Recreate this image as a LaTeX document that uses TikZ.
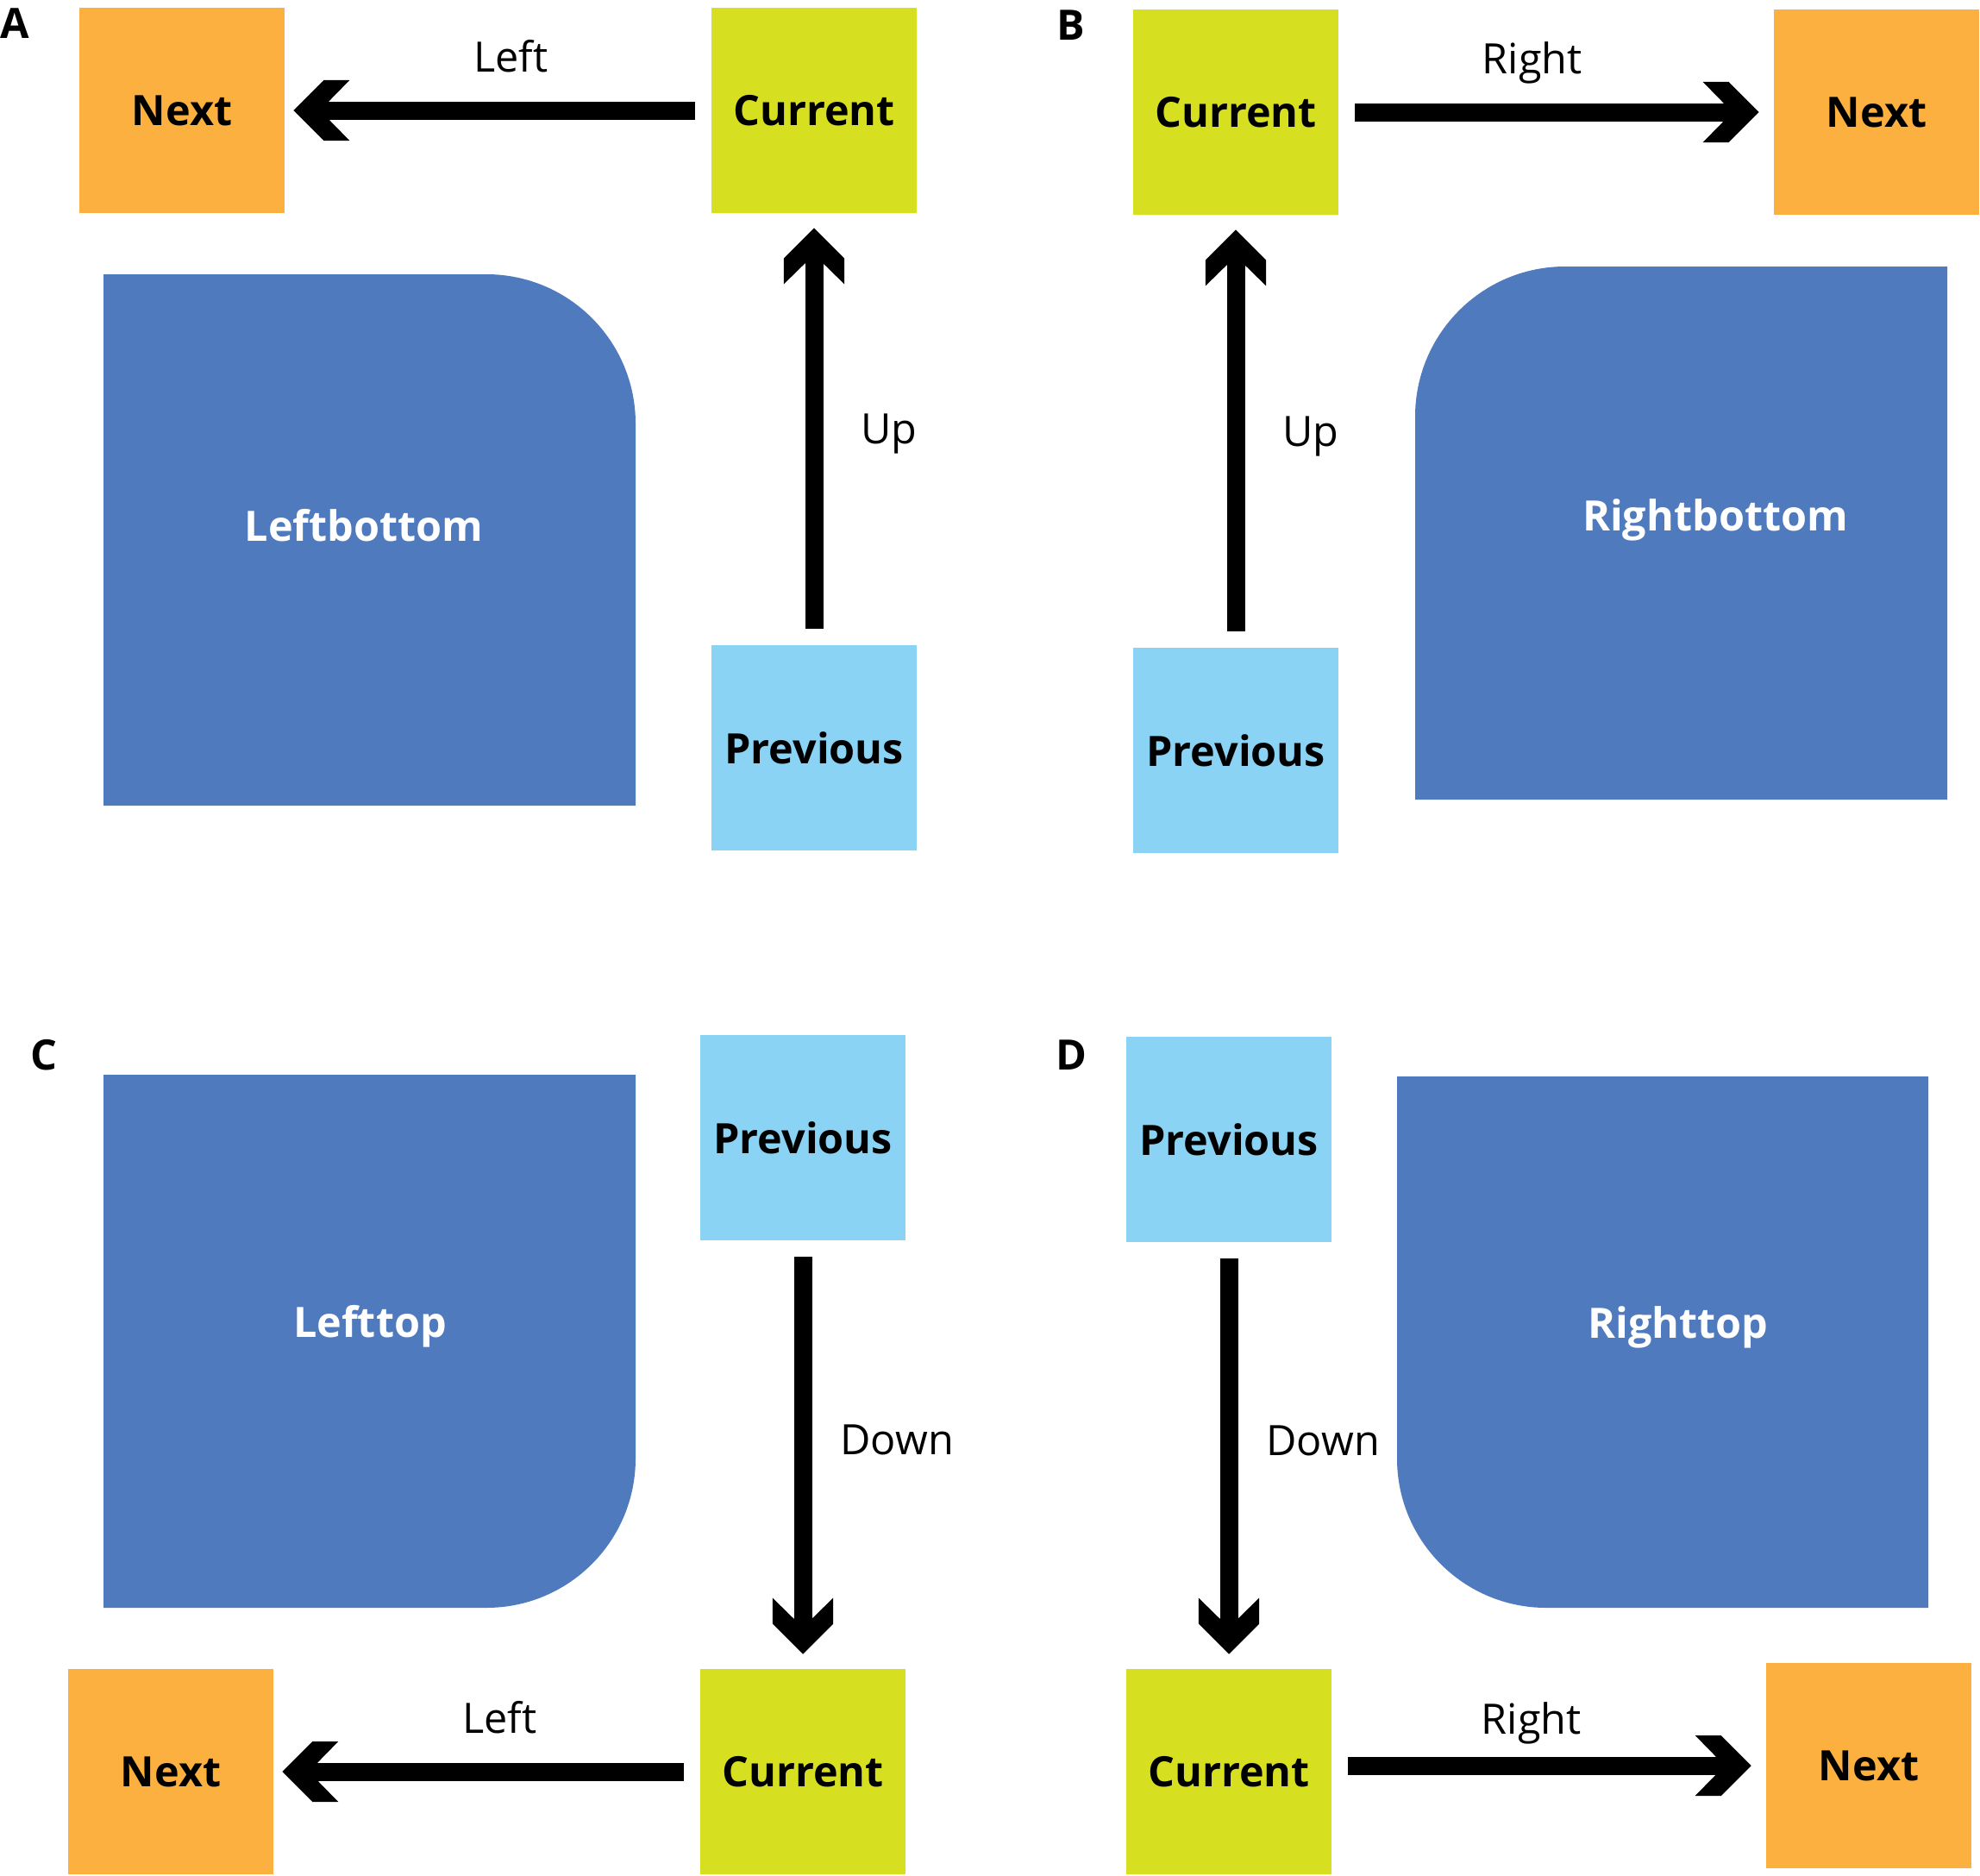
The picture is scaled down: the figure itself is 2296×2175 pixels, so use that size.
\documentclass[tikz,border=0pt]{standalone}
\usepackage{fontspec}
\setmainfont{Open Sans}
\usetikzlibrary{arrows.meta, positioning, calc}

% thick chevron tip
\pgfdeclarearrow{
  name = Chevron,
  setup code = {
    \pgfarrowssettipend{0pt}
    \pgfarrowssetbackend{-18.5pt}
    \pgfarrowssetlineend{-8pt}
    \pgfarrowshullpoint{0pt}{0pt}
    \pgfarrowshullpoint{-18.5pt}{9.96pt}
    \pgfarrowshullpoint{-18.5pt}{-9.96pt}
  },
  drawing code = {
    \pgfpathmoveto{\pgfpointorigin}
    \pgfpathlineto{\pgfpoint{-9.96pt}{9.96pt}}
    \pgfpathlineto{\pgfpoint{-18.5pt}{9.96pt}}
    \pgfpathlineto{\pgfpoint{-11.67pt}{2.99pt}}
    \pgfpathlineto{\pgfpoint{-11.67pt}{-2.99pt}}
    \pgfpathlineto{\pgfpoint{-18.5pt}{-9.96pt}}
    \pgfpathlineto{\pgfpoint{-9.96pt}{-9.96pt}}
    \pgfpathclose
    \pgfusepathqfill
  }
}

\definecolor{nextorange}{HTML}{FBB040}
\definecolor{currgreen}{HTML}{D7DF21}
\definecolor{prevblue}{HTML}{8AD3F4}
\definecolor{blockblue}{HTML}{4F7ABE}

\begin{document}
\begin{tikzpicture}[
  x=0.01cm, y=-0.01cm,
  font=\fontsize{13.8}{16.5}\selectfont,
  % cell styles
  cell/.style={
    rectangle, minimum size=2.37cm, inner sep=0pt,
    font=\fontsize{13.8}{16.5}\selectfont\bfseries
  },
  nextbox/.style={cell, fill=nextorange},
  currentbox/.style={cell, fill=currgreen},
  previousbox/.style={cell, fill=prevblue},
  blocklbl/.style={inner sep=0pt, text=white, font=\fontsize{13.8}{16.5}\selectfont\bfseries},
  panel/.style={inner sep=0pt, font=\fontsize{13.8}{16.5}\selectfont\bfseries},
  % moves
  move/.style={line width=0.21cm, -Chevron, shorten <=0.19cm, shorten >=0.17cm},
  movelbl/.style={inner sep=0pt, text depth=0pt}
]
\useasboundingbox (0,0) rectangle (2296,2175);

% Blocks
\fill[blockblue] (120,934) -- (737,934) -- (737,491)
  arc[start angle=0, end angle=-90, radius=173] -- (120,318) -- cycle;
\fill[blockblue] (2258,927) -- (1641,927) -- (1641,483)
  arc[start angle=180, end angle=270, radius=174] -- (2258,309) -- cycle;
\fill[blockblue] (120,1246) -- (737,1246) -- (737,1691)
  arc[start angle=0, end angle=90, radius=173] -- (120,1864) -- cycle;
\fill[blockblue] (2236,1248) -- (1620,1248) -- (1620,1691)
  arc[start angle=180, end angle=90, radius=173] -- (2236,1864) -- cycle;

\node[blocklbl] (lbot) at (422,609) {Leftbottom};
\node[blocklbl] (rbot) at (1989,603) {Rightbottom};
\node[blocklbl] (ltop) at (429,1538) {Lefttop};
\node[blocklbl] (rtop) at (1946,1539) {Righttop};

% Panel letters
\node[panel] (pA) at (17,27) {A};
\node[panel] (pB) at (1242,29) {B};
\node[panel] (pC) at (51,1223) {C};
\node[panel] (pD) at (1242,1223) {D};

% A: up then left
\node[nextbox] (nxtA) at (211,128) {Next};
\node[currentbox] (curA) at (944,128) {Current};
\node[previousbox] (prvA) at (944,867) {Previous};
\draw[move] (prvA) -- (curA) node[movelbl, midway, right=0.44cm] {Up};
\draw[move, shorten >=0.1cm] (curA) -- (nxtA) node[movelbl, pos=.47, above=0.34cm] {Left};

% B: up then right
\node[currentbox] (curB) at (1433,130) {Current};
\node[nextbox] (nxtB) at (2176,130) {Next};
\node[previousbox] (prvB) at (1433,870) {Previous};
\draw[move] (prvB) -- (curB) node[movelbl, midway, right=0.44cm] {Up};
\draw[move] (curB) -- (nxtB) node[movelbl, pos=.445, above=0.34cm] {Right};

% C: down then left
\node[previousbox] (prvC) at (931,1319) {Previous};
\node[currentbox] (curC) at (931,2054) {Current};
\node[nextbox] (nxtC) at (198,2054) {Next};
\draw[move] (prvC) -- (curC) node[movelbl, pos=.465, right=0.33cm] {Down};
\draw[move, shorten >=0.1cm] (curC) -- (nxtC) node[movelbl, pos=.47, above=0.34cm] {Left};

% D: down then right
\node[previousbox] (prvD) at (1425,1321) {Previous};
\node[currentbox] (curD) at (1425,2054) {Current};
\node[nextbox] (nxtD) at (2167,2047) {Next};
\draw[move] (prvD) -- (curD) node[movelbl, pos=.465, right=0.33cm] {Down};
\draw[move] (curD.east |- nxtD) -- (nxtD) node[movelbl, pos=.46, above=0.26cm] {Right};

\end{tikzpicture}
\end{document}
